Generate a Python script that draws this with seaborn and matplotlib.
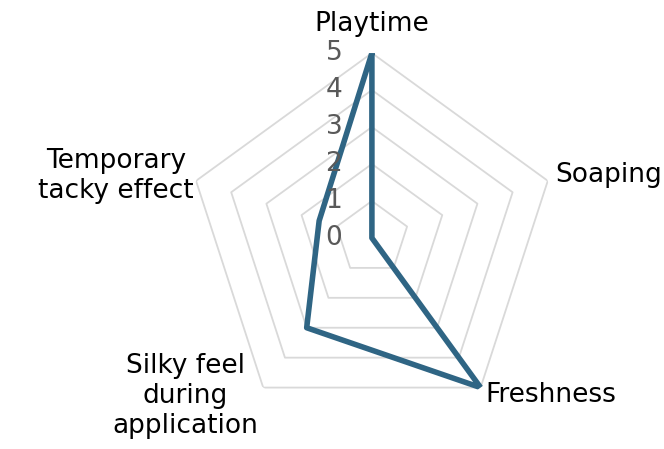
import numpy as np
import pandas as pd
import matplotlib
matplotlib.use("Agg")
import matplotlib.pyplot as plt
import seaborn as sns

# dados do radar
categories = ["Playtime", "Soaping", "Freshness", "Silky feel\nduring\napplication", "Temporary\ntacky effect"]
values = [5, 0, 5, 3, 1.5]
levels = [0, 1, 2, 3, 4, 5]

sns.set_theme(style="white")
plt.rcParams["font.family"] = ["DejaVu Sans"]

n = len(categories)
angles = list(np.linspace(0, 2 * np.pi, n, endpoint=False))
closed = angles + [2 * np.pi]

fig = plt.figure(figsize=(6.64, 4.49), dpi=100)
ax = fig.add_axes([0.2816, 0.058, 0.557, 0.824], projection="polar")
ax.set_theta_zero_location("N")
ax.set_theta_direction(-1)
ax.set_ylim(0, 5)

# grade em pentagonos
for lv in levels[1:]:
    ax.plot(closed, [lv] * (n + 1), color="#d9d9d9", lw=1.3, zorder=1)

# serie (fechada)
df = pd.DataFrame({"theta": closed, "r": values + values[:1]})
sns.lineplot(data=df, x="theta", y="r", sort=False, estimator=None, ax=ax,
             color="#2f6584", linewidth=4, zorder=3)

ax.set_xticks([])
ax.set_yticks([])
ax.grid(False)
ax.spines["polar"].set_visible(False)
ax.set_xlabel("")
ax.set_ylabel("")

# rotulos dos niveis
for lv in levels:
    ax.annotate(str(lv), xy=(0, lv), xytext=(-38, 0), textcoords="offset pixels",
                ha="center", va="center", fontsize=19, color="#595959")

# rotulos das categorias
offsets = [(0, 29, "center"), (7, 6, "left"), (5, -7, "left"), (-5, -8, "right"), (-2, 5, "right")]
for ang, cat, (dx, dy, ha) in zip(angles, categories, offsets):
    ax.annotate(cat, xy=(ang, 5), xytext=(dx, dy), textcoords="offset pixels",
                ha=ha, va="center", fontsize=19, color="black",
                multialignment="center", linespacing=1.2)

plt.savefig("out.png", dpi=100)
